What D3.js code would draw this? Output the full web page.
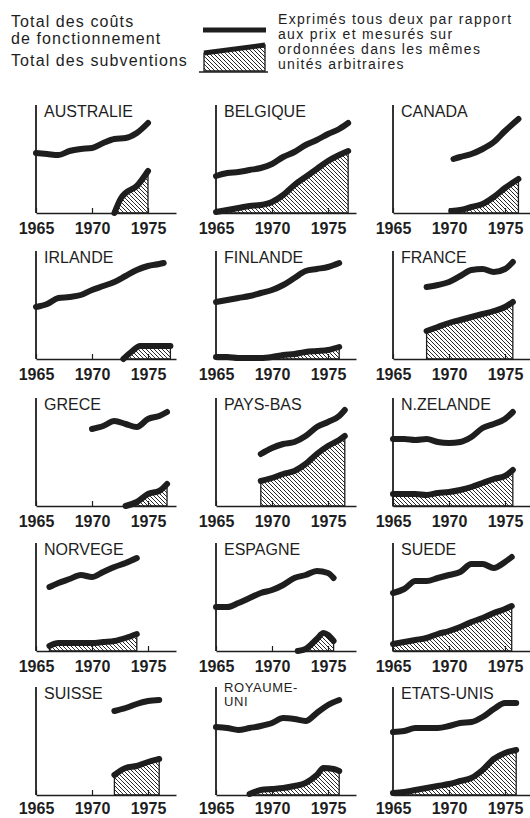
<!DOCTYPE html>
<html>
<head>
<meta charset="utf-8">
<script src="https://cdn.jsdelivr.net/npm/d3@7"></script>
<style>
  body { margin: 0; background: #fff; }
  text { font-family: "Liberation Sans", Arial, sans-serif; fill: #1e1e1e; }
</style>
</head>
<body>
<svg id="chart" width="530" height="818"></svg>
<script>
// couts de fonctionnement / subventions, [annee, unites arbitraires]
const australieCouts = [[1965, 60], [1966, 59], [1967, 58], [1968, 62], [1969, 64], [1970, 65], [1971, 70], [1972, 74], [1973, 75], [1974, 80], [1975, 90]];
const australieSubv = [[1972, 0], [1972.6, 15], [1973, 20], [1974, 27], [1975, 42]];

const belgiqueCouts = [[1965, 37], [1966, 40], [1967, 41], [1968, 43], [1969, 45], [1970, 49], [1971, 56], [1972, 61], [1973, 68], [1974, 73], [1975, 79], [1976, 84], [1976.8, 90]];
const belgiqueSubv = [[1965, 1], [1966, 3], [1967, 5], [1968, 7], [1969, 8], [1970, 11], [1971, 18], [1972, 28], [1973, 36], [1974, 44], [1975, 52], [1976, 58], [1976.8, 62]];

const canadaCouts = [[1970.4, 54], [1971, 56], [1972, 59], [1973, 64], [1974, 71], [1975, 82], [1976.2, 94]];
const canadaSubv = [[1970.2, 2], [1971, 3], [1972, 6], [1973, 9], [1974, 16], [1975, 25], [1976.2, 34]];

const irlandeCouts = [[1965, 52], [1966, 55], [1967, 61], [1968, 62], [1969, 64], [1970, 69], [1971, 73], [1972, 77], [1973, 83], [1974, 89], [1975, 93], [1976, 95], [1976.4, 96]];
const irlandeSubv = [[1972.8, 0], [1973.5, 7], [1974.3, 13], [1975, 13], [1976, 13], [1977, 13]];

const finlandeCouts = [[1965, 57], [1966, 59], [1967, 61], [1968, 63], [1969, 66], [1970, 69], [1971, 74], [1972, 81], [1973, 88], [1974, 90], [1975, 92], [1976, 96]];
const finlandeSubv = [[1965, 2], [1966, 2], [1967, 1], [1968, 1], [1969, 1], [1970, 2], [1971, 4], [1972, 5], [1973, 7], [1974, 8], [1975, 9], [1976, 12]];

const franceCouts = [[1968, 72], [1969, 74], [1970, 77], [1971, 83], [1972, 89], [1973, 90], [1974, 87], [1975, 90], [1975.7, 97]];
const franceSubv = [[1968, 28], [1969, 32], [1970, 36], [1971, 39], [1972, 42], [1973, 45], [1974, 48], [1975, 52], [1975.7, 57]];

const greceCouts = [[1970, 77], [1971, 80], [1972, 85], [1973, 82], [1974, 79], [1975, 87], [1976, 90], [1976.7, 94]];
const greceSubv = [[1973, 0], [1974, 4], [1975, 12], [1976, 15], [1976.7, 22]];

const paysBasCouts = [[1969, 52], [1970, 58], [1971, 62], [1972, 64], [1973, 70], [1974, 79], [1975, 84], [1976, 90], [1976.5, 96]];
const paysBasSubv = [[1969, 25], [1970, 28], [1971, 32], [1972, 35], [1973, 42], [1974, 52], [1975, 60], [1976, 66], [1976.5, 70]];

const nZelandeCouts = [[1965, 67], [1966, 67], [1967, 66], [1968, 67], [1969, 64], [1970, 63], [1971, 64], [1972, 69], [1973, 78], [1974, 82], [1975, 87], [1975.7, 94]];
const nZelandeSubv = [[1965, 12], [1966, 12], [1967, 12], [1968, 11], [1969, 13], [1970, 14], [1971, 16], [1972, 19], [1973, 23], [1974, 27], [1975, 30], [1975.7, 36]];

const norvegeCouts = [[1966.2, 64], [1967, 68], [1968, 72], [1969, 76], [1970, 74], [1971, 79], [1972, 84], [1973, 88], [1974, 93]];
const norvegeSubv = [[1966.2, 5], [1967, 8], [1968, 8], [1969, 8], [1970, 8], [1971, 9], [1972, 10], [1973, 13], [1974, 17]];

const espagneCouts = [[1965, 44], [1966, 44], [1967, 48], [1968, 53], [1969, 58], [1970, 61], [1971, 66], [1972, 73], [1973, 76], [1974, 80], [1975, 78], [1975.5, 73]];
const espagneSubv = [[1972.3, 0], [1973, 2], [1974, 12], [1974.6, 18], [1975, 16], [1975.5, 10]];

const suedeCouts = [[1965, 58], [1966, 62], [1967, 70], [1968, 70], [1969, 73], [1970, 76], [1971, 79], [1972, 87], [1973, 87], [1974, 83], [1975, 89], [1975.6, 94]];
const suedeSubv = [[1965, 7], [1966, 9], [1967, 11], [1968, 13], [1969, 17], [1970, 20], [1971, 24], [1972, 29], [1973, 33], [1974, 38], [1975, 42], [1975.6, 45]];

const suisseCouts = [[1972, 84], [1973, 87], [1974, 91], [1975, 94], [1976, 95]];
const suisseSubv = [[1972, 20], [1973, 27], [1974, 29], [1975, 33], [1976, 36]];

const royaumeUniCouts = [[1965, 68], [1966, 67], [1967, 65], [1968, 67], [1969, 69], [1970, 72], [1971, 77], [1972, 76], [1973, 74], [1974, 82], [1975, 90], [1976, 95]];
const royaumeUniSubv = [[1968, 1], [1969, 5], [1970, 6], [1971, 7], [1972, 9], [1973, 12], [1974, 20], [1974.6, 27], [1975.5, 26], [1976, 24]];

const etatsUnisCouts = [[1965, 63], [1966, 64], [1967, 67], [1968, 67], [1969, 67], [1970, 69], [1971, 72], [1972, 73], [1973, 78], [1974, 86], [1975, 92], [1976, 92]];
const etatsUnisSubv = [[1965, 2], [1966, 3], [1967, 5], [1968, 7], [1969, 9], [1970, 11], [1971, 14], [1972, 17], [1973, 25], [1974, 36], [1975, 42], [1976, 45]];

const countryNames = [
  ["AUSTRALIE"], ["BELGIQUE"], ["CANADA"],
  ["IRLANDE"], ["FINLANDE"], ["FRANCE"],
  ["GRECE"], ["PAYS-BAS"], ["N.ZELANDE"],
  ["NORVEGE"], ["ESPAGNE"], ["SUEDE"],
  ["SUISSE"], ["ROYAUME-", "UNI"], ["ETATS-UNIS"]
];
const coutsSeries = [australieCouts, belgiqueCouts, canadaCouts, irlandeCouts, finlandeCouts, franceCouts,
  greceCouts, paysBasCouts, nZelandeCouts, norvegeCouts, espagneCouts, suedeCouts,
  suisseCouts, royaumeUniCouts, etatsUnisCouts];
const subvSeries = [australieSubv, belgiqueSubv, canadaSubv, irlandeSubv, finlandeSubv, franceSubv,
  greceSubv, paysBasSubv, nZelandeSubv, norvegeSubv, espagneSubv, suedeSubv,
  suisseSubv, royaumeUniSubv, etatsUnisSubv];
const tickYears = [1965, 1970, 1975];

const legendLeft = ["Total des coûts", "de fonctionnement", "Total des subventions"];
const legendRight = ["Exprimés tous deux par rapport", "aux prix et mesurés sur", "ordonnées dans les mêmes", "unités arbitraires"];

const ink = "#1e1e1e";
const colX = [36, 216, 393];
const rowBottom = [213, 359, 506, 651, 795];
const plotH = 108, plotW = 140;

const svg = d3.select("#chart");

// hachures
svg.append("defs").append("pattern")
    .attr("id", "hatch")
    .attr("patternUnits", "userSpaceOnUse")
    .attr("width", 4)
    .attr("height", 4)
  .append("path")
    .attr("d", "M-1,-1 l2,2 M0,0 l4,4 M3,3 l2,2")
    .attr("stroke", ink)
    .attr("stroke-width", 0.9);

const x = d3.scaleLinear().domain([1965, 1977.5]).range([0, plotW]);
const y = d3.scaleLinear().domain([0, 108]).range([plotH, 0]);

const line = d3.line()
    .x(d => x(d[0]))
    .y(d => y(d[1]))
    .curve(d3.curveMonotoneX);

const area = d3.area()
    .x(d => x(d[0]))
    .y0(y(0))
    .y1(d => y(d[1]))
    .curve(d3.curveMonotoneX);

countryNames.forEach((name, i) => {
    const col = i % 3, row = Math.floor(i / 3);
    const g = svg.append("g")
        .attr("transform", `translate(${colX[col]},${rowBottom[row] - plotH})`);

    // axe des x avec graduations interieures
    const ax = g.append("g")
        .attr("transform", `translate(0,${plotH})`)
        .call(d3.axisBottom(x)
            .tickValues(tickYears)
            .tickFormat(d3.format("d"))
            .tickSizeInner(-5)
            .tickSizeOuter(0)
            .tickPadding(row === 4 ? 7.5 : 10));
    ax.select(".domain").attr("stroke", ink).attr("stroke-width", 1.6);
    ax.selectAll(".tick line").attr("stroke", ink).attr("stroke-width", 1.2);
    ax.selectAll(".tick text")
        .attr("font-family", "Liberation Sans, Arial, sans-serif")
        .attr("font-size", 16)
        .attr("font-weight", "bold")
        .attr("fill", ink);

    // axe des y
    g.append("line")
        .attr("x1", 0).attr("x2", 0)
        .attr("y1", 0).attr("y2", plotH)
        .attr("stroke", ink)
        .attr("stroke-width", 1.8);

    // titre
    const lines = name.length;
    name.forEach((t, k) => {
        g.append("text")
            .attr("x", 8)
            .attr("y", lines > 1 ? 5 + k * 13.5 : 12)
            .attr("font-size", lines > 1 ? 13 : 16)
            .attr("letter-spacing", lines > 1 ? 0.6 : 0)
            .text(t);
    });

    // subventions
    const sub = subvSeries[i];
    g.append("path")
        .datum(sub)
        .attr("d", area)
        .attr("fill", "url(#hatch)")
        .attr("stroke", ink)
        .attr("stroke-width", 1.3);
    g.append("path")
        .datum(sub)
        .attr("d", line)
        .attr("fill", "none")
        .attr("stroke", ink)
        .attr("stroke-width", 6)
        .attr("stroke-linecap", "round")
        .attr("stroke-linejoin", "round");

    // couts de fonctionnement
    g.append("path")
        .datum(coutsSeries[i])
        .attr("d", line)
        .attr("fill", "none")
        .attr("stroke", ink)
        .attr("stroke-width", 6)
        .attr("stroke-linecap", "round")
        .attr("stroke-linejoin", "round");
});

// legende
const leg = svg.append("g");
legendLeft.forEach((t, k) => {
    leg.append("text")
        .attr("x", 11)
        .attr("y", [27, 44, 66][k])
        .attr("font-size", 16)
        .attr("letter-spacing", 1.1)
        .text(t);
});
legendRight.forEach((t, k) => {
    leg.append("text")
        .attr("x", 278)
        .attr("y", 24 + k * 15)
        .attr("font-size", 14)
        .attr("letter-spacing", 1.3)
        .text(t);
});
leg.append("line")
    .attr("x1", 203).attr("x2", 266)
    .attr("y1", 30).attr("y2", 30)
    .attr("stroke", ink)
    .attr("stroke-width", 5);
leg.append("path")
    .attr("d", "M204,71 L204,53 L265,45 L265,71 Z")
    .attr("fill", "url(#hatch)")
    .attr("stroke", ink)
    .attr("stroke-width", 1.3);
leg.append("line")
    .attr("x1", 204).attr("x2", 265)
    .attr("y1", 53).attr("y2", 45)
    .attr("stroke", ink)
    .attr("stroke-width", 5);
leg.append("line")
    .attr("x1", 199).attr("x2", 268)
    .attr("y1", 72).attr("y2", 72)
    .attr("stroke", ink)
    .attr("stroke-width", 1.5);
</script>
</body>
</html>
